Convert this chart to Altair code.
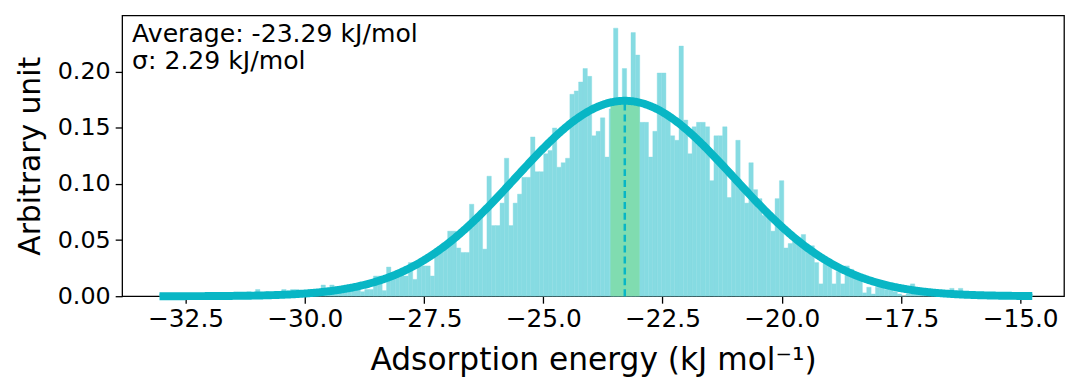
import altair as alt
import pandas as pd

# ---- data ----
BIN_START = -33.046      # left edge of first histogram bin (kJ/mol)
BIN_WIDTH = 0.09154      # histogram bin width (kJ/mol)
heights = [
    0.002, 0.000, 0.000, 0.000, 0.002, 0.000, 0.000, 0.002, 0.000, 0.000,
    0.002, 0.000, 0.002, 0.000, 0.002, 0.002, 0.000, 0.004, 0.002, 0.002,
    0.004, 0.002, 0.006, 0.002, 0.004, 0.002, 0.004, 0.004, 0.006, 0.004,
    0.006, 0.006, 0.004, 0.004, 0.006, 0.004, 0.006, 0.010, 0.006, 0.010,
    0.008, 0.006, 0.008, 0.010, 0.008, 0.011, 0.004, 0.006, 0.006, 0.018,
    0.018, 0.005, 0.026, 0.021, 0.021, 0.021, 0.018, 0.030, 0.015, 0.030,
    0.027, 0.027, 0.018, 0.038, 0.042, 0.046, 0.058, 0.058, 0.043, 0.039,
    0.039, 0.082, 0.066, 0.070, 0.042, 0.107, 0.063, 0.063, 0.083, 0.123,
    0.063, 0.083, 0.091, 0.106, 0.106, 0.142, 0.111, 0.111, 0.127, 0.130,
    0.150, 0.115, 0.119, 0.123, 0.180, 0.183, 0.191, 0.203, 0.196, 0.143,
    0.147, 0.159, 0.124, 0.167, 0.239, 0.172, 0.203, 0.172, 0.235, 0.215,
    0.155, 0.155, 0.124, 0.147, 0.199, 0.199, 0.160, 0.143, 0.139, 0.223,
    0.157, 0.127, 0.151, 0.155, 0.155, 0.151, 0.103, 0.143, 0.143, 0.151,
    0.088, 0.103, 0.139, 0.100, 0.083, 0.119, 0.095, 0.087, 0.072, 0.071,
    0.058, 0.087, 0.103, 0.043, 0.047, 0.050, 0.052, 0.055, 0.045, 0.045,
    0.030, 0.011, 0.032, 0.030, 0.011, 0.022, 0.011, 0.027, 0.024, 0.017,
    0.015, 0.003, 0.008, 0.002, 0.008, 0.008, 0.006, 0.006, 0.004, 0.002,
    0.000, 0.002, 0.011, 0.004, 0.004, 0.002, 0.004, 0.002, 0.002, 0.004,
    0.002, 0.007, 0.002, 0.007, 0.002, 0.002, 0.000, 0.002, 0.002, 0.000,
    0.002, 0.000, 0.000, 0.002, 0.000, 0.000, 0.002, 0.000, 0.000, 0.002,
]
MEAN = -23.29
SIGMA = 2.29
BAND_LO = -23.59
BAND_HI = -22.98
x_ticks = [-32.5, -30.0, -27.5, -25.0, -22.5, -20.0, -17.5, -15.0]
y_ticks = [0.0, 0.05, 0.10, 0.15, 0.20]
annotation = ["Average: -23.29 kJ/mol", "\u03c3: 2.29 kJ/mol"]

BIN_END = BIN_START + BIN_WIDTH * len(heights)

hist = pd.DataFrame({
    "x0": [BIN_START + i * BIN_WIDTH for i in range(len(heights))],
    "x1": [BIN_START + (i + 1) * BIN_WIDTH for i in range(len(heights))],
    "h": heights,
    "z": [0.0] * len(heights),
})

BAR = "#86dbe2"
LINE = "#08b6c5"
BAND = "#80dcb0"
FONT = "DejaVu Sans"

xscale = alt.Scale(domain=[-33.83, -14.08], nice=False, zero=False)
yscale = alt.Scale(domain=[0, 0.2504], nice=False, zero=False)

xaxis = alt.Axis(values=x_ticks, format=".1f", title="Adsorption energy (kJ mol\u207b\u00b9)",
                 grid=False, domain=False, tickSize=7, tickWidth=1.3, tickColor="black",
                 labelFontSize=25, labelFont=FONT, labelColor="black", labelPadding=4,
                 titleFontSize=31.5, titleFont=FONT, titleFontWeight="normal", titleColor="black",
                 titlePadding=13)
yaxis = alt.Axis(values=y_ticks, format=".2f", title="Arbitrary unit",
                 grid=False, domain=False, tickSize=7, tickWidth=1.3, tickColor="black",
                 labelFontSize=24, labelFont=FONT, labelColor="black", labelPadding=5,
                 titleFontSize=30, titleFont=FONT, titleFontWeight="normal", titleColor="black",
                 titlePadding=12)

pdf_expr = f"exp(-pow(datum.x - ({MEAN}), 2) / (2 * {SIGMA} * {SIGMA})) / ({SIGMA} * sqrt(2 * PI))"

bars = alt.Chart(hist).mark_rect(color=BAR, stroke=BAR, strokeWidth=0.4).encode(
    x=alt.X("x0:Q", scale=xscale, axis=xaxis),
    x2="x1:Q",
    y=alt.Y("h:Q", scale=yscale, axis=yaxis),
    y2="z:Q",
)

band = alt.Chart(alt.sequence(BAND_LO, BAND_HI + 0.001, 0.005, as_="x")).transform_calculate(
    pdf=pdf_expr, z="0"
).mark_area(color=BAND, opacity=1).encode(
    x=alt.X("x:Q", scale=xscale, axis=xaxis),
    y=alt.Y("pdf:Q", scale=yscale, axis=yaxis),
    y2="z:Q",
)

rule = alt.Chart(pd.DataFrame({"x": [MEAN], "z": [0.0]})).transform_calculate(
    pdf=pdf_expr
).mark_rule(color=LINE, strokeWidth=2.5, strokeDash=[7, 4]).encode(
    x=alt.X("x:Q", scale=xscale, axis=xaxis),
    y=alt.Y("z:Q", scale=yscale, axis=yaxis),
    y2="pdf:Q",
)

curve = alt.Chart(alt.sequence(BIN_START, BIN_END + 0.001, 0.02, as_="x")).transform_calculate(
    pdf=pdf_expr
).mark_line(color=LINE, strokeWidth=8, strokeCap="butt").encode(
    x=alt.X("x:Q", scale=xscale, axis=xaxis),
    y=alt.Y("pdf:Q", scale=yscale, axis=yaxis),
)

text = alt.Chart(pd.DataFrame({"a": [0]})).mark_text(
    align="left", baseline="alphabetic", fontSize=25.3, font=FONT, color="black", lineHeight=28
).encode(
    x=alt.value(10),
    y=alt.value(26.5),
    text=alt.value(annotation),
)

chart = alt.layer(bars, band, rule, curve, text).properties(
    width=949, height=283,
    autosize=alt.AutoSizeParams(type="none"),
    padding={"left": 115, "top": 6, "right": 2, "bottom": 80},
    background="white",
).configure_view(stroke="black", strokeWidth=1.3)

chart.save("out.html", embed_options={"renderer": "svg", "actions": False})
